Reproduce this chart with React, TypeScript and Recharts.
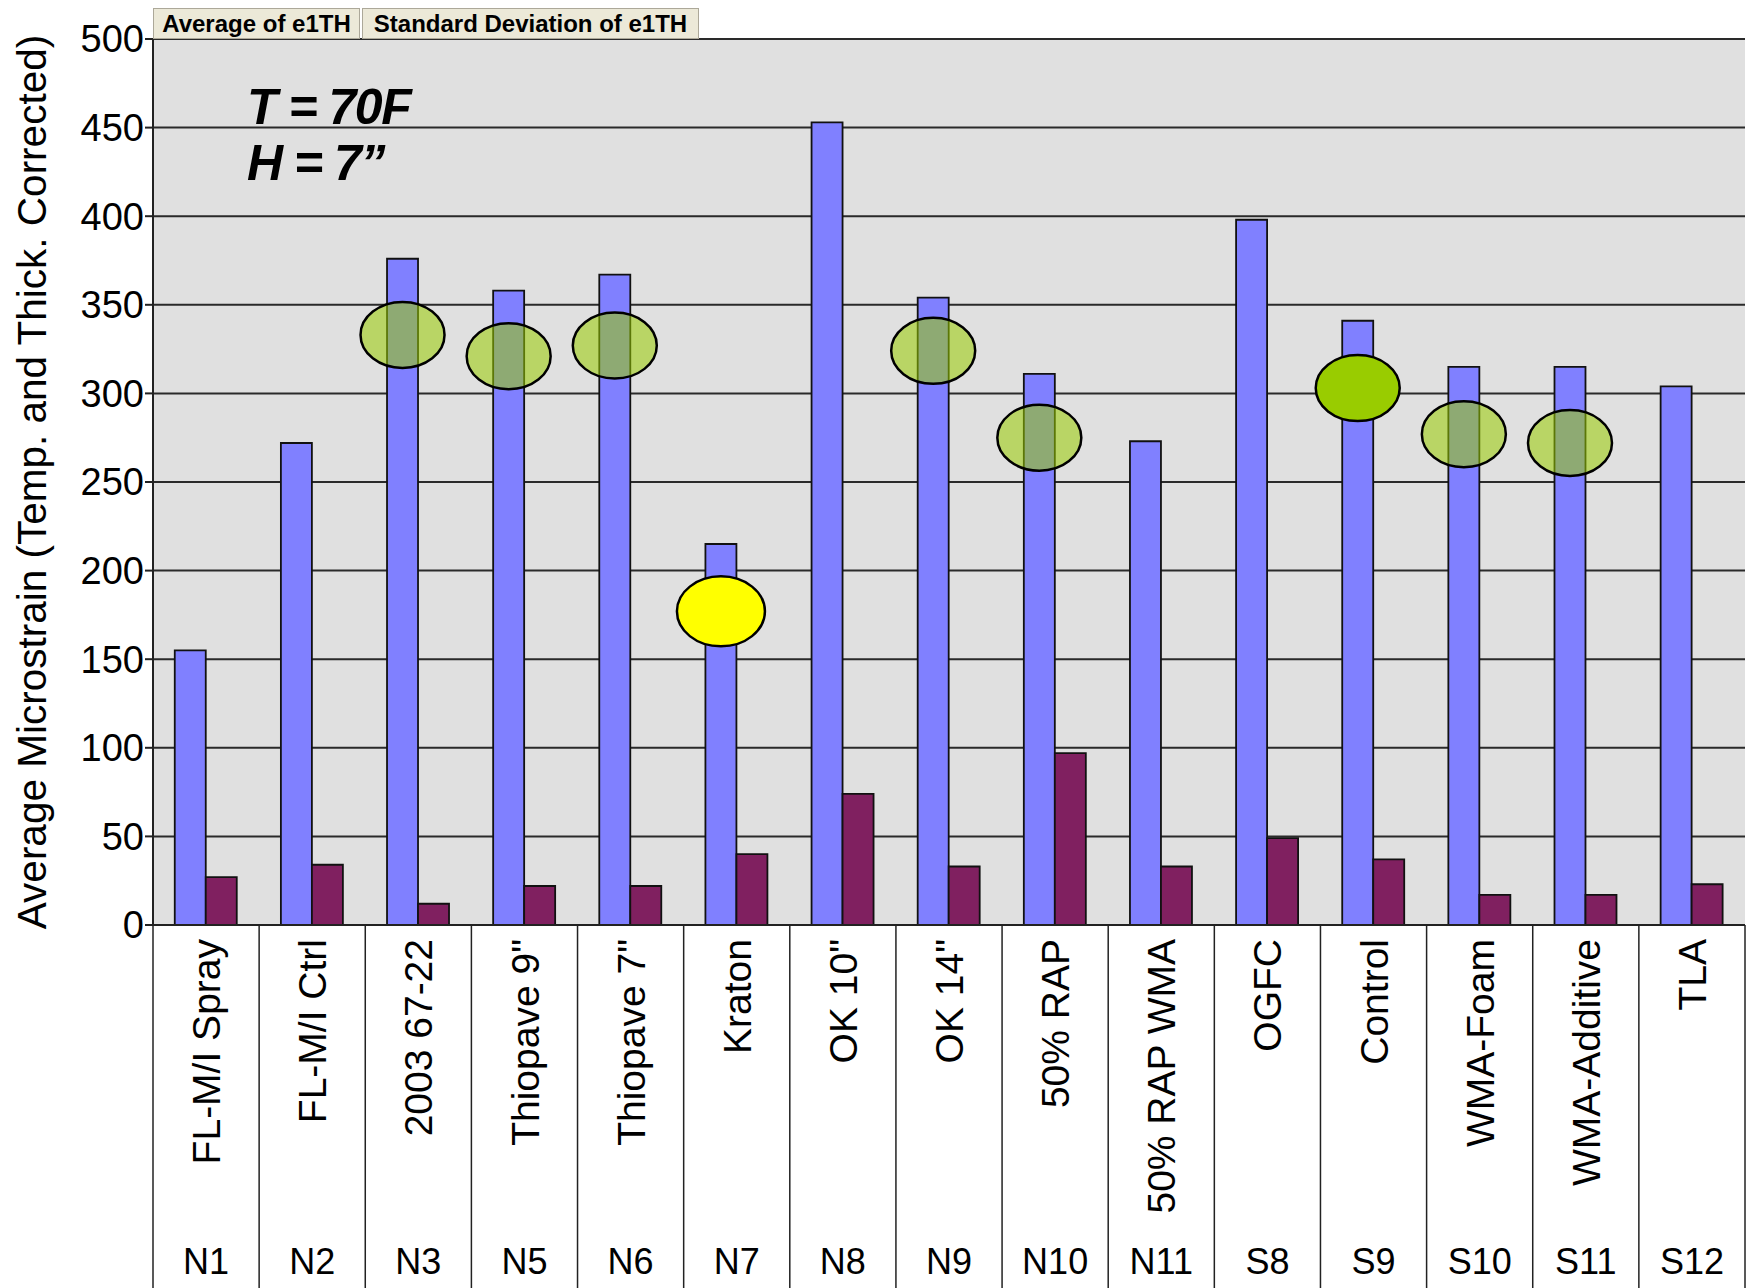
import React from "react";
import {
  BarChart,
  Bar,
  XAxis,
  YAxis,
  CartesianGrid,
  LabelList,
} from "recharts";

// ---------------------------------------------------------------------------
// Data
// ---------------------------------------------------------------------------

const sections = ["N1", "N2", "N3", "N5", "N6", "N7", "N8", "N9", "N10", "N11", "S8", "S9", "S10", "S11", "S12"];
const mixes = [
  "FL-M/I Spray",
  "FL-M/I Ctrl",
  "2003 67-22",
  "Thiopave 9\"",
  "Thiopave 7\"",
  "Kraton",
  "OK 10\"",
  "OK 14\"",
  "50% RAP",
  "50% RAP WMA",
  "OGFC",
  "Control",
  "WMA-Foam",
  "WMA-Additive",
  "TLA",
];
const avgStrain = [155, 272, 376, 358, 367, 215, 453, 354, 311, 273, 398, 341, 315, 315, 304];
const stdStrain = [27, 34, 12, 22, 22, 40, 74, 33, 97, 33, 49, 37, 17, 17, 23];

// highlight ellipses drawn on the average bars (value at ellipse centre)
const markValues = [null, null, 333, 321, 327, 177, null, 324, 275, null, null, 303, 277, 272, null];
const markKinds = ["", "", "hatch", "hatch", "hatch", "yellow", "", "hatch", "hatch", "", "", "green", "hatch", "hatch", ""];

const yTicks = [0, 50, 100, 150, 200, 250, 300, 350, 400, 450, 500];

const data = sections.map((code, i) => ({
  code,
  mix: mixes[i],
  avg: avgStrain[i],
  std: stdStrain[i],
  mark: markValues[i],
}));

// ---------------------------------------------------------------------------
// Layout
// ---------------------------------------------------------------------------

const W = 1748;
const H = 1288;
const LEFT = 153;
const RIGHT = 3;
const TOP = 39;
const XAXIS_H = 363;
const BAND = (W - LEFT - RIGHT) / sections.length;
const FONT = "'Liberation Sans', Arial, sans-serif";

const MARK_STYLE: Record<string, { fill: string; rx: number; ry: number }> = {
  hatch: { fill: "rgba(153,204,0,0.55)", rx: 42, ry: 33 },
  yellow: { fill: "#FFFF00", rx: 44, ry: 35 },
  green: { fill: "#99CC00", rx: 42, ry: 33 },
};

function CategoryTick(props: any) {
  const { x, y, payload, index } = props;
  const mix = mixes[index];
  return (
    <g>
      <line x1={x - BAND / 2} x2={x - BAND / 2} y1={y} y2={H} stroke="#222" strokeWidth={1.5} />
      {index === sections.length - 1 && (
        <line x1={x + BAND / 2} x2={x + BAND / 2} y1={y} y2={H} stroke="#222" strokeWidth={1.5} />
      )}
      <text
        transform={`translate(${x},${y + 14}) rotate(-90)`}
        textAnchor="end"
        dy="0.36em"
        fontSize={39}
        fontFamily={FONT}
        fill="#000"
      >
        {mix}
      </text>
      <text x={x} y={y + 349} textAnchor="middle" fontSize={36} fontFamily={FONT} fill="#000">
        {payload.value}
      </text>
    </g>
  );
}

function MarkEllipse(props: any) {
  const { x, y, width, height, value, index } = props;
  if (value == null) return null;
  const style = MARK_STYLE[markKinds[index]];
  if (!style) return null;
  const base = y + height;
  const cy = base - (value * height) / avgStrain[index];
  return (
    <ellipse
      cx={x + width / 2}
      cy={cy}
      rx={style.rx}
      ry={style.ry}
      fill={style.fill}
      stroke="#000"
      strokeWidth={2.5}
    />
  );
}

function YLabel() {
  const cy = TOP + (H - XAXIS_H - TOP) / 2;
  return (
    <text
      transform={`translate(31,${cy}) rotate(-90)`}
      textAnchor="middle"
      dy="0.36em"
      fontSize={40.5}
      fontFamily={FONT}
      fill="#000"
    >
      Average Microstrain (Temp. and Thick. Corrected)
    </text>
  );
}

const buttonStyle: React.CSSProperties = {
  position: "absolute",
  top: 8,
  height: 29,
  background: "#ECE9D8",
  border: "1px solid #ACA899",
  fontFamily: "'Liberation Sans Narrow', 'Liberation Sans', Arial, sans-serif",
  fontWeight: "bold",
  fontSize: 24,
  lineHeight: "29px",
  textAlign: "center",
  color: "#000",
  boxSizing: "content-box",
};

export default function App() {
  return (
    <div style={{ position: "absolute", left: 0, top: 0, width: W, height: H, background: "#fff" }}>
      <BarChart
        width={W}
        height={H}
        data={data}
        margin={{ top: TOP, right: RIGHT, bottom: 0, left: 0 }}
        barCategoryGap="20.5%"
        barGap={0}
      >
        <CartesianGrid vertical={false} stroke="#2a2a2a" strokeWidth={2} fill="#E0E0E0" />
        <XAxis
          dataKey="code"
          height={XAXIS_H}
          interval={0}
          tickLine={false}
          tickSize={0}
          tickMargin={0}
          axisLine={{ stroke: "#222", strokeWidth: 2 }}
          tick={<CategoryTick />}
        />
        <YAxis
          width={LEFT}
          domain={[0, 500]}
          ticks={yTicks}
          interval={0}
          tickSize={8}
          tickMargin={1}
          axisLine={{ stroke: "#222", strokeWidth: 2 }}
          tickLine={{ stroke: "#222", strokeWidth: 2 }}
          tick={{ fontSize: 38, fontFamily: FONT, fill: "#000" }}
          label={<YLabel />}
        />
        <Bar dataKey="avg" fill="#8080FF" stroke="#111" strokeWidth={1.8} isAnimationActive={false}>
          <LabelList dataKey="mark" content={<MarkEllipse />} />
        </Bar>
        <Bar dataKey="std" fill="#802060" stroke="#111" strokeWidth={1.8} isAnimationActive={false} />
      </BarChart>

      <div style={{ ...buttonStyle, left: 153, width: 205 }}>Average of e1TH</div>
      <div style={{ ...buttonStyle, left: 362, width: 335 }}>Standard Deviation of e1TH</div>

      <div
        style={{
          position: "absolute",
          left: 247,
          top: 79,
          fontFamily: FONT,
          fontWeight: "bold",
          fontStyle: "italic",
          fontSize: 50,
          lineHeight: "56px",
          letterSpacing: -1.5,
          color: "#000",
        }}
      >
        <div>T = 70F</div>
        <div>H = 7”</div>
      </div>
    </div>
  );
}
